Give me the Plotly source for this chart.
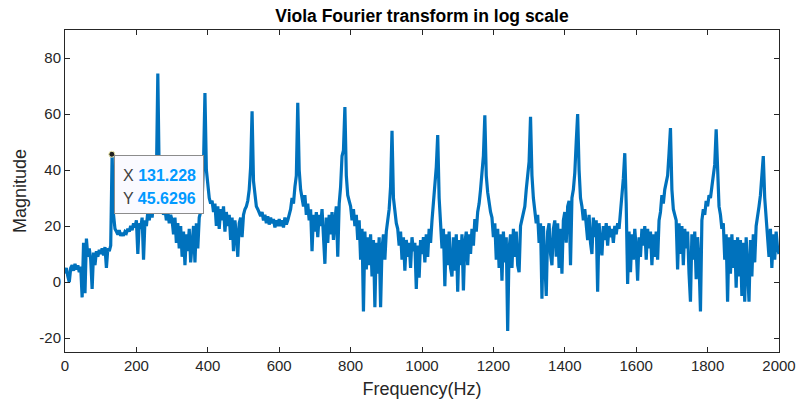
import plotly.graph_objects as go

# ---- data ----
freq_step_hz = 4  # spectrum sampled every 4 Hz, 0..2000 Hz

mag_0000_0496 = [
    3, 5, 2, 0, 5, 6, 4, 6.5, 4.5, 6, 3.5, 5.5, -5.5, 14, -4, 15.5, 9, 12, 8, -2.5, 10.5, 6, 11, 9, 11.5,
    10, 12, 9.5, 12.5, 5, 12, 11, 13, 45.6, 24, 19, 18, 17, 18.5, 16.5, 17.5, 16.5, 18, 17.5, 19, 18, 20, 18.5, 21, 19.5,
    22, 10, 21, 19, 23, 8, 22, 20, 25, 22, 26, 23, 28, 30, 37, 74.5, 37, 30, 27, 24, 26, 22, 25, 21, 24,
    22, 17, 23, 14, 21, 12, 20, 9, 18, 6, 17, 11, 19, 7, 16, 20, 7, 21, 12, 23, 25, 29, 42, 67.5, 40,
    34, 30, 28, 29, 25, 28, 20, 27, 19, 26, 22, 27, 18, 25, 20, 24, 15, 23, 11, 22, 17, 9, 21, 23, 16,
]
mag_0500_0996 = [
    24, 26, 27, 29, 33, 41, 61, 36, 30, 27, 26, 25, 23.5, 25, 22, 24, 21, 23.5, 20.5, 23, 21, 22.5, 19.5, 22, 20,
    22.5, 20, 22, 19.5, 23, 20.5, 22, 24, 26, 30, 28, 34, 38, 64, 40, 33, 30, 27, 31, 24, 28, 22, 26, 11, 24,
    18, 25, 16, 24, 20, 26, 15, 6.5, 23, 14, 24, 17, 25, 15, 22, 27, 9, 28, 34, 45, 47, 62.5, 38, 31, 29,
    27, 22, 26, 20, 24, 15, 22, 8, 19, -10.5, 18, 4.5, 16, 6, 17, 2, 15, -9, 14, 3, 16, -9, 12, 17, 8,
    18, 22, 26, 34, 54, 30, 25, 21, 19, 13, 18, 8, 16, 4, 15, 9, 14, 5, 16, 11, 14, -2.5, 13, 1.5, 15,
]
mag_1000_1496 = [
    10, 16, 7, 17, 9, 19, 14, 22, 28, 33, 41, 52.5, 30, 21, 12, 19, -1.5, 17, 6, 18, 5, 2, 16, 4, 17,
    -3.5, 15, 6, 17, -3, 14, 18, 6, 17, 10, 19, 13, 22.5, 18, 25, 28, 33, 38, 45, 59.5, 38, 32, 28, 25, 23,
    16, 21, 8, 19, 5, 17, 0.5, 18, 7, 16, -17.5, 12, 17, 5, 19, 9, 18, 6, 3.5, 20, 22, 25, 27, 33, 38,
    43, 59, 38, 30, 26, 21, 24, 14, 21, -6, 20, 8, -5, 18, 21, 10, 6, 19, 22, 9, 21, 5, 19, 3, 22,
    25, 14, 27, 29, 6, 30, 33, 39, 50, 60, 40, 30, 27, 22, 26, 19, 15, 24, 14, 10, 23, 16, 22, -3.5, 21,
]
mag_1500_2000 = [
    14, 9.5, 20, 15, 21, 13, 20, 16, 19, 14, 20, 17, 21, 19, 25, 30, 37, 46, 28, -0.7, 18, 3.5, 17, 8, 19,
    12, 0.5, 16, 9, 19, 13, 20, 8, 19, 12, 18, 6, 17, 9, 18, 8, 22, 25, 31, 28, 33, 36, 38, 46, 55,
    33, 26, 24, 22, 4.5, 21, 10, 20, 6, 19, 12, 18, 3, -7, 17, 8, 18, 1, 16, 7, -10.5, 22, 26, 24, 29,
    27, 31, 30, 34, 38, 42, 54.5, 40, 27, 24, 19, 21, 8, 17, -7, 16, 3, 17, 5, 15, -2, 16, 2, 15, -5,
    14, -7, 16, 4, -7, 15, 2, 17, 7, 20, 23, 27, 31, 38, 45, 30, 22, 18, 9, 19, 5, 17, 8, 18, 12,
    10,
]

magnitude = mag_0000_0496 + mag_0500_0996 + mag_1000_1496 + mag_1500_2000
frequency_hz = [i * freq_step_hz for i in range(len(magnitude))]

x_ticks = [0, 200, 400, 600, 800, 1000, 1200, 1400, 1600, 1800, 2000]
y_ticks = [-20, 0, 20, 40, 60, 80]

datatip_x = 131.228
datatip_y = 45.6296

# ---- styles ----
LINE_BLUE = "#0072BD"
AX_COLOR = "#262626"
TIP_BLUE = "#0099FF"
FONT = "Liberation Sans, Arial, Helvetica, sans-serif"

fig = go.Figure()
fig.add_trace(go.Scatter(
    x=frequency_hz, y=magnitude, mode="lines",
    line=dict(color=LINE_BLUE, width=3.2),
    hoverinfo="skip", showlegend=False,
))
fig.add_trace(go.Scatter(
    x=[datatip_x], y=[datatip_y], mode="markers",
    marker=dict(color="#202020", size=6, line=dict(color="#f2eeb0", width=1)),
    hoverinfo="skip", showlegend=False,
))

# data tip box and texts
fig.add_annotation(
    x=datatip_x, y=datatip_y, xref="x", yref="y",
    text=" ", showarrow=False, xanchor="left", yanchor="top",
    xshift=2, yshift=-1, width=86, height=55, borderpad=1,
    bgcolor="#FAFAFF", bordercolor="#8c8c8c", borderwidth=1,
)
fig.add_annotation(
    x=datatip_x, y=datatip_y, xref="x", yref="y",
    text=f"<span style='color:#404040'>X</span> <b>{datatip_x:g}</b>",
    showarrow=False, xanchor="left", yanchor="middle", align="left",
    xshift=9, yshift=-21, font=dict(family=FONT, size=16, color=TIP_BLUE),
)
fig.add_annotation(
    x=datatip_x, y=datatip_y, xref="x", yref="y",
    text=f"<span style='color:#404040'>Y</span> <b>{datatip_y:g}</b>",
    showarrow=False, xanchor="left", yanchor="middle", align="left",
    xshift=9, yshift=-44, font=dict(family=FONT, size=16, color=TIP_BLUE),
)

fig.update_layout(
    width=797, height=403,
    margin=dict(l=65, r=18, t=30, b=51),
    paper_bgcolor="white", plot_bgcolor="white",
    font=dict(family=FONT, size=15, color=AX_COLOR),
    title=dict(
        text="<b>Viola Fourier transform in log scale</b>",
        x=0.5, xref="paper", xanchor="center",
        y=1 - 16 / 403, yref="container", yanchor="middle",
        font=dict(family=FONT, size=17.5, color="black"),
    ),
    xaxis=dict(
        range=[0, 2000], tickvals=x_ticks, ticktext=[str(v) for v in x_ticks],
        ticks="inside", ticklen=5, tickcolor=AX_COLOR, tickwidth=1,
        showline=True, linecolor=AX_COLOR, linewidth=1, mirror="allticks",
        showgrid=False, zeroline=False, automargin=False,
        title=dict(text="Frequency(Hz)", font=dict(size=18, color=AX_COLOR), standoff=9),
        tickfont=dict(size=15, color=AX_COLOR),
    ),
    yaxis=dict(
        range=[-25, 90], tickvals=y_ticks, ticktext=[str(v) for v in y_ticks],
        ticks="inside", ticklen=5, tickcolor=AX_COLOR, tickwidth=1,
        showline=True, linecolor=AX_COLOR, linewidth=1, mirror="allticks",
        showgrid=False, zeroline=False, automargin=False,
        title=dict(text="Magnitude", font=dict(size=18, color=AX_COLOR), standoff=8),
        tickfont=dict(size=15, color=AX_COLOR),
    ),
)

fig.write_html("out.html")
